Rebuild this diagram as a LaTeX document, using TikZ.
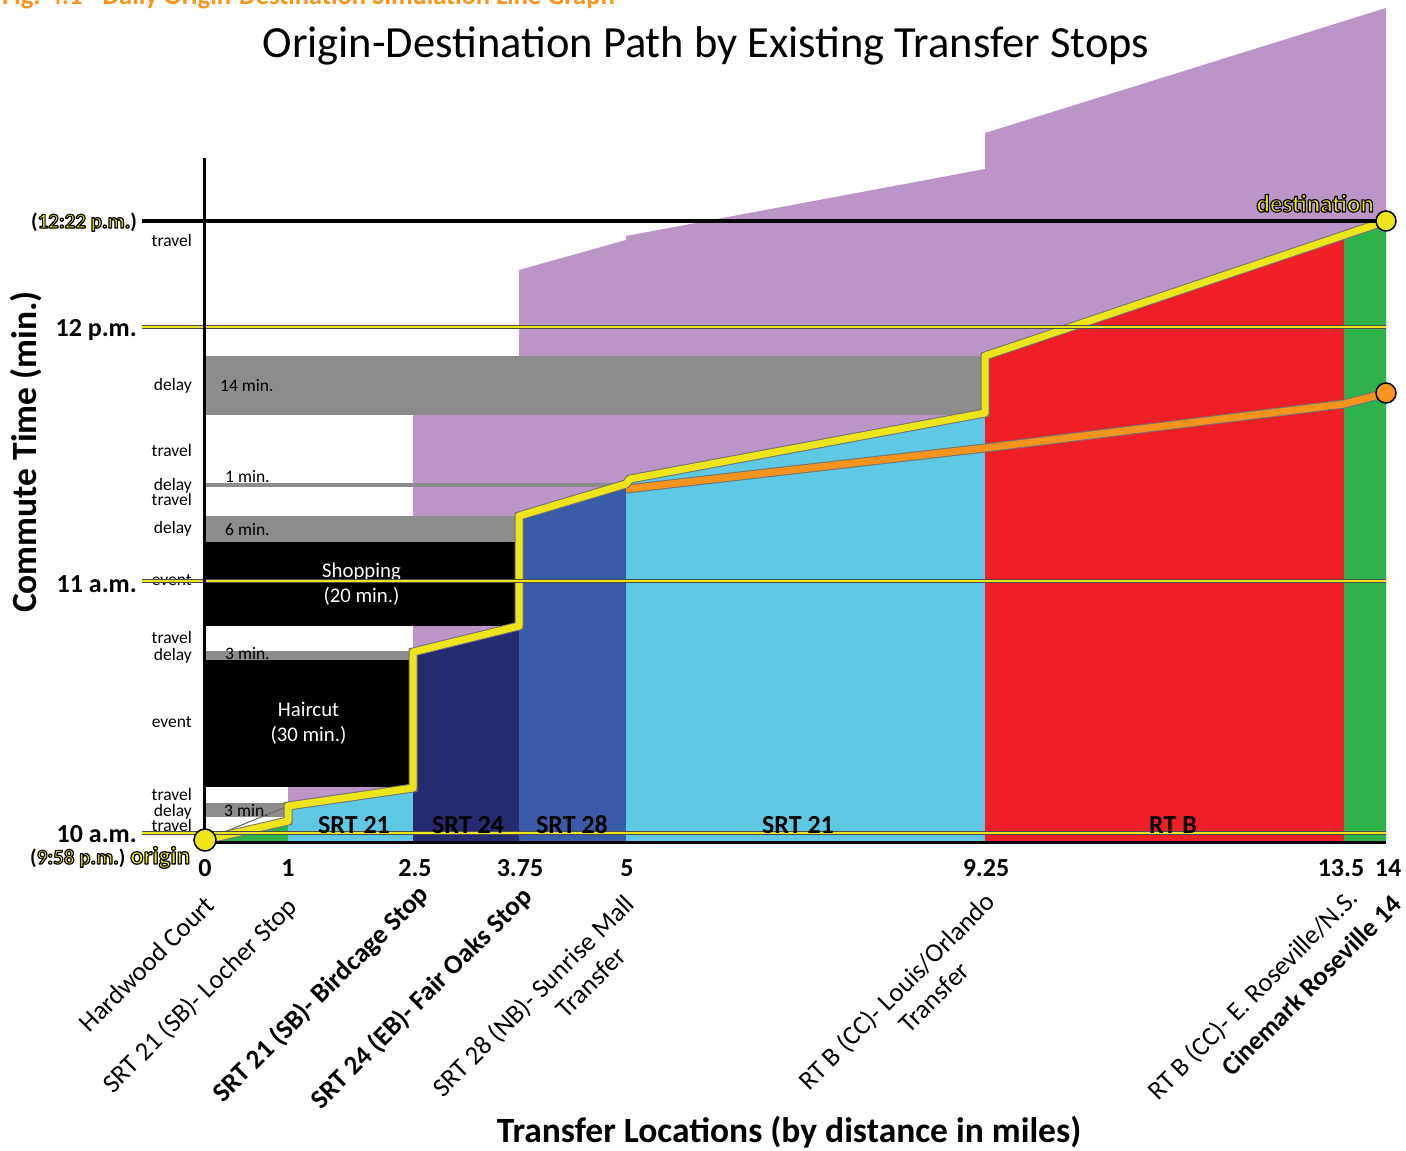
\documentclass[tikz,border=0pt]{standalone}
\usepackage{fontspec}
\setmainfont{Carlito}
\usepackage{tikz}
\usetikzlibrary{positioning}

\definecolor{odpurple}{RGB}{186,149,198}
\definecolor{odgrey}{RGB}{140,140,140}
\definecolor{odnavy}{RGB}{38,42,110}
\definecolor{odblue}{RGB}{58,91,168}
\definecolor{odcyan}{RGB}{94,200,229}
\definecolor{odred}{RGB}{238,31,37}
\definecolor{odgreen}{RGB}{45,179,74}
\definecolor{odylw}{RGB}{237,229,28}
\definecolor{odorange}{RGB}{247,148,29}

% yellow text with a black rim
\newcommand\ylwout[1]{{\color{odylw}\special{pdf:literal direct 0 0 0 RG 1.2 w 1 j 2 Tr}#1\special{pdf:literal direct 0 Tr}}}

\begin{document}
\begin{tikzpicture}[x=1pt, y=-1pt,
    side/.style={anchor=base east, inner sep=0pt, font=\fontsize{17.5}{19}\selectfont},
    minlbl/.style={anchor=base west, inner sep=0pt, font=\fontsize{17.5}{19}\selectfont},
    hourlbl/.style={anchor=base east, inner sep=0pt, font=\bfseries\fontsize{26}{28}\selectfont},
    dist/.style={inner sep=0pt, font=\bfseries\fontsize{26}{28}\selectfont},
    routelbl/.style={inner sep=0pt, font=\bfseries\fontsize{26}{28}\selectfont},
    stoplbl/.style={rotate=45, anchor=north east, inner sep=0pt, font=\fontsize{26.5}{30}\selectfont},
    evblock/.style={rectangle, fill=black, text=white, align=center, inner sep=0pt, font=\fontsize{20.8}{25}\selectfont},
    hourline/.style={draw=odylw, line width=2.5pt, preaction={draw=black!70, line width=4pt}},
    routeline/.style={draw=odylw, line width=7pt, line join=round, preaction={draw=black!55, line width=9pt}},
    altline/.style={draw=odorange, line width=7pt, line join=round, preaction={draw=black!55, line width=9pt}},
    dot/.style={circle, draw=black, line width=1.5pt, minimum size=20pt, inner sep=0pt}
]
\useasboundingbox (0,0) rectangle (1406,1151);
\clip (0,0) rectangle (1406,1151);

% titles
\node[anchor=base west, inner sep=0pt, text=odorange, font=\bfseries\fontsize{26.5}{28}\selectfont] (cap) at (2,5) {Fig. 4.1 - Daily Origin-Destination Simulation Line Graph};
\node[anchor=base, inner sep=0pt, font=\fontsize{44.5}{48}\selectfont] (title) at (706,57) {Origin-Destination Path by Existing Transfer Stops};

% waiting area
\fill[odpurple] (288,830) -- (288,700) -- (413,700) -- (413,380) -- (519,380) -- (519,270) -- (626,240) -- (626,236) -- (985,169) -- (985,133) -- (1386,8) -- (1386,842) -- (288,842) -- cycle;

% route bands
\fill[odgreen] (205,842) -- (205,840) -- (288,821) -- (288,842) -- cycle;
\fill[odcyan] (288,842) -- (288,806) -- (413,788) -- (413,842) -- cycle;
\fill[odnavy] (413,842) -- (413,652) -- (519,626) -- (519,842) -- cycle;
\fill[odblue] (519,842) -- (519,516) -- (626,484) -- (626,842) -- cycle;
\fill[odcyan] (626,842) -- (626,484) -- (630,479) -- (985,413) -- (985,842) -- cycle;
\fill[odred] (985,842) -- (985,356) -- (1344,235) -- (1344,842) -- cycle;
\fill[odgreen] (1344,842) -- (1344,235) -- (1386,221) -- (1386,842) -- cycle;

% delays
\fill[odgrey] (204,356) rectangle (985,415);
\fill[odgrey] (204,483) rectangle (626,487);
\fill[odgrey] (204,516) rectangle (519,542);
\fill[odgrey] (204,651) rectangle (413,660);
\fill[odgrey] (204,803) rectangle (288,817);
\node[minlbl] (d14) at (220,391) {14 min.};
\node[minlbl] (d1) at (225,482) {1 min.};
\node[minlbl] (d6) at (225,535) {6 min.};
\node[minlbl] (d3a) at (225,659) {3 min.};
\node[minlbl] (d3b) at (224,816) {3 min.};

% events
\node[evblock, minimum width=315pt, minimum height=84pt] (shop) at (361.5,584) {Shopping\\(20 min.)};
\node[evblock, minimum width=209pt, minimum height=127pt] (hair) at (308.5,723.5) {Haircut\\(30 min.)};

% segment names
\node[side] at (192,246) {travel};
\node[side] at (192,390) {delay};
\node[side] at (192,456) {travel};
\node[side] at (192,490) {delay};
\node[side] at (192,505) {travel};
\node[side] at (192,533) {delay};
\node[side] at (192,585) {event};
\node[side] at (192,643) {travel};
\node[side] at (192,660) {delay};
\node[side] at (192,727) {event};
\node[side] at (192,800) {travel};
\node[side] at (192,816) {delay};
\node[side] at (192,831) {travel};

% paths
\coordinate (orgpt) at (205,840);
\coordinate (dstpt) at (1386,221);
\coordinate (altpt) at (1386,393);
\draw[black!60, line width=1pt] (orgpt) -- (288,806);
\draw[altline] (626,489) -- (985,448) -- (1344,404) -- (altpt);
\draw[routeline] (orgpt) -- (288,821) -- (288,806) -- (413,788) -- (413,652) -- (519,626) -- (519,516) -- (626,484) -- (630,479) -- (985,413) -- (985,356) -- (dstpt);

% hour lines
\draw[hourline] (142,327) -- (1386,327);
\draw[hourline] (142,581) -- (1386,581);
\draw[hourline] (142,833) -- (1386,833);
\draw[black, line width=4pt] (142,221) -- (1386,221);

% axes
\draw[black, line width=3pt] (204,158) -- (204,843.5);
\draw[black, line width=3pt] (204,842.5) -- (1386,842.5);

% end points
\node[dot, fill=odylw, minimum size=22pt] (org) at (orgpt) {};
\node[dot, fill=odylw] (dst) at (dstpt) {};
\node[dot, fill=odorange] (alt) at (altpt) {};

% time labels
\node[hourlbl] (h12) at (137,336) {12 p.m.};
\node[hourlbl] (h11) at (137,592) {11 a.m.};
\node[hourlbl] (h10) at (137,842) {10 a.m.};
\node[anchor=base east, inner sep=0pt, font=\bfseries\fontsize{21}{23}\selectfont] (tend) at (137,228) {(\ylwout{12:22 p.m.})};
\node[anchor=base west, inner sep=0pt, font=\bfseries\fontsize{21}{23}\selectfont] (tstart) at (30,864) {(\ylwout{9:58 p.m.})};
\node[anchor=base west, inner sep=0pt, font=\bfseries\fontsize{25}{27}\selectfont] (orglbl) at (130,864) {\ylwout{origin}};
\node[anchor=base east, inner sep=0pt, font=\bfseries\fontsize{25}{27}\selectfont] (dstlbl) at (1374,212) {\ylwout{destination}};

% routes
\node[routelbl] (r1) at (354,825) {SRT 21};
\node[routelbl] (r2) at (468,825) {SRT 24};
\node[routelbl] (r3) at (572,825) {SRT 28};
\node[routelbl] (r4) at (798,825) {SRT 21};
\node[routelbl] (r5) at (1173,825) {RT B};

% distances
\node[dist] (m0) at (205,868) {0};
\node[dist] (m1) at (288,868) {1};
\node[dist] (m2) at (415,868) {2.5};
\node[dist] (m3) at (520,868) {3.75};
\node[dist] (m4) at (627,868) {5};
\node[dist] (m5) at (986,868) {9.25};
\node[dist] (m6) at (1341,868) {13.5};
\node[dist] (m7) at (1388,868) {14};

% stops
\node[stoplbl] (s0) at (203,894) {Hardwood Court};
\node[stoplbl] (s1) at (285,895) {SRT 21 (SB)- Locher Stop};
\node[stoplbl, font=\bfseries\fontsize{27}{30}\selectfont] (s2) at (416,882) {SRT 21 (SB)- Birdcage Stop};
\node[stoplbl, font=\bfseries\fontsize{27}{30}\selectfont] (s3) at (519,884) {SRT 24 (EB)- Fair Oaks Stop};
\node[stoplbl] (s4) at (622,892) {SRT 28 (NB)- Sunrise Mall};
\node[stoplbl] (s4b) at (615,945) {Transfer};
\node[stoplbl] (s5) at (983,890) {RT B (CC)- Louis/Orlando};
\node[stoplbl] (s5b) at (958,960) {Transfer};
\node[stoplbl] (s6) at (1346,886) {RT B (CC)- E. Roseville/N.S.};
\node[stoplbl, font=\bfseries\fontsize{26.5}{30}\selectfont] (s6b) at (1390,893) {Cinemark Roseville 14};

% axis titles
\node[rotate=90, inner sep=0pt, font=\bfseries\fontsize{35.5}{38}\selectfont] (ytitle) at (26,452) {Commute Time (min.)};
\node[inner sep=0pt, font=\bfseries\fontsize{35.5}{38}\selectfont] (xtitle) at (789,1132) {Transfer Locations (by distance in miles)};

\end{tikzpicture}
\end{document}
